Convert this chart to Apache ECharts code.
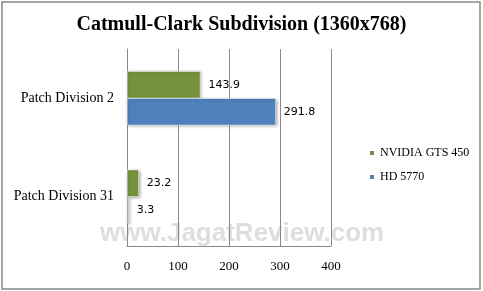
<!DOCTYPE html>
<html><head><meta charset="utf-8">
<script src="https://cdn.jsdelivr.net/npm/echarts@6/dist/echarts.min.js"></script>
<style>html,body{margin:0;padding:0;background:#fff}#c{width:483px;height:291px}</style>
</head><body><div id="c"></div>
<script>
const categories = ['Patch Division 2', 'Patch Division 31'];
const seriesNames = ['NVIDIA GTS 450', 'HD 5770'];
const nvidia = [143.9, 23.2];
const hd = [291.8, 3.3];
const xTicks = [0, 100, 200, 300, 400];
const colors = ['#76923c', '#4f81bd'];

const chart = echarts.init(document.getElementById('c'));
const barStyle = (c) => ({color: c, shadowColor: 'rgba(0,0,0,0.35)', shadowBlur: 3, shadowOffsetX: 1, shadowOffsetY: 1, borderColor: '#fff', borderWidth: 0.5});
const lbl = {show: true, position: 'right', distance: 8, color: '#000', fontFamily: 'DejaVu Sans', fontSize: 11};
chart.setOption({
  animation: false,
  backgroundColor: '#fff',
  title: {text: 'Catmull-Clark Subdivision (1360x768)', left: 'center', top: 10,
    textStyle: {fontFamily: 'Liberation Serif', fontWeight: 'bold', fontSize: 20, color: '#000'}},
  graphic: [
    {type: 'rect', shape: {x: 2, y: 2, width: 478, height: 287}, style: {fill: 'none', stroke: '#888', lineWidth: 1.5}, z: -1},
    {type: 'text', left: 100, top: 221, z: 0, style: {text: 'www.JagatReview.com', fontFamily: 'Liberation Sans', fontWeight: 'bold', fontSize: 26, fill: 'rgba(195,195,195,0.55)'}}
  ],
  legend: {orient: 'vertical', left: 363, top: 142, itemWidth: 6, itemHeight: 6, itemGap: 12, icon: 'rect',
    data: seriesNames, textStyle: {fontFamily: 'Liberation Serif', fontSize: 12, color: '#000'}},
  grid: {left: 127, right: 152, top: 49, bottom: 45, containLabel: false},
  xAxis: {type: 'value', min: 0, max: 400, interval: 100,
    axisLine: {show: true, lineStyle: {color: '#888', width: 1}}, axisTick: {show: false},
    splitLine: {show: true, lineStyle: {color: '#888', width: 1}},
    axisLabel: {fontFamily: 'Liberation Serif', fontSize: 13, color: '#000', margin: 14,
      formatter: (v) => String(v)}, data: xTicks},
  yAxis: {type: 'category', inverse: true, data: categories,
    axisLine: {show: true, lineStyle: {color: '#888'}}, axisTick: {show: false},
    axisLabel: {fontFamily: 'Liberation Serif', fontSize: 14, color: '#000', margin: 13}},
  series: [
    {name: seriesNames[0], type: 'bar', data: nvidia, itemStyle: barStyle(colors[0]), label: lbl, barGap: '0%', barCategoryGap: '45%'},
    {name: seriesNames[1], type: 'bar', data: hd, itemStyle: barStyle(colors[1]), label: lbl, barGap: '0%', barCategoryGap: '45%'}
  ]
});
</script></body></html>
